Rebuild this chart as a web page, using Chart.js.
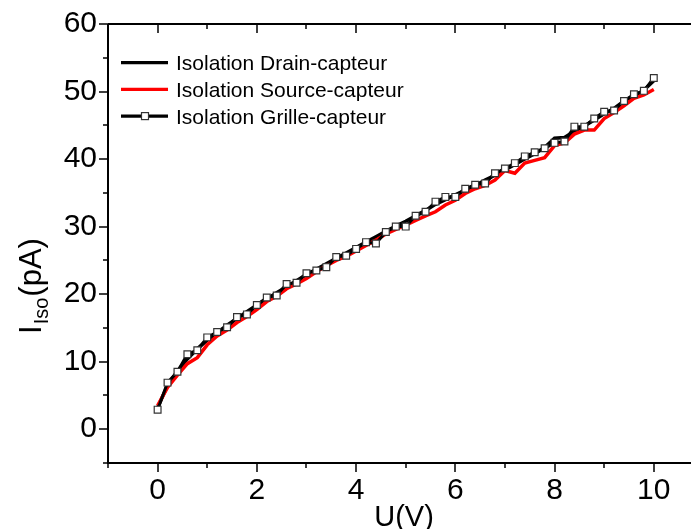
<!DOCTYPE html>
<html>
<head>
<meta charset="utf-8">
<title>Courant d'isolation</title>
<script src="https://cdn.jsdelivr.net/npm/chart.js@4.4.0/dist/chart.umd.min.js"></script>
<style>
    html, body { margin: 0; padding: 0; background: #fff; }
    #wrap { width: 691px; height: 529px; }
</style>
</head>
<body>
<div id="wrap"><canvas id="isoChart" width="691" height="529"></canvas></div>
<script>
// Tension appliquée (V)
const voltages = [0, 0.2, 0.4, 0.6, 0.8, 1, 1.2, 1.4, 1.6, 1.8, 2, 2.2, 2.4, 2.6, 2.8, 3, 3.2, 3.4, 3.6, 3.8,
    4, 4.2, 4.4, 4.6, 4.8, 5, 5.2, 5.4, 5.6, 5.8, 6, 6.2, 6.4, 6.6, 6.8, 7, 7.2, 7.4, 7.6, 7.8,
    8, 8.2, 8.4, 8.6, 8.8, 9, 9.2, 9.4, 9.6, 9.8, 10];

// Courants d'isolation (pA)
const drainCapteur = [3.2, 6.5, 8.6, 10.4, 11.9, 13.2, 14.3, 15.4, 16.4, 17.4, 18.4, 19.3, 20.2, 21.1, 22.0, 22.9, 23.7, 24.5, 25.3, 26.1,
    26.9, 27.7, 28.5, 29.3, 30.1, 30.8, 31.6, 32.4, 33.3, 34.0, 34.7, 35.4, 36.1, 36.9, 37.6, 38.4, 39.2, 40.0, 40.8, 41.7,
    43.1, 43.2, 44.1, 44.9, 45.8, 46.7, 47.5, 48.6, 49.3, 50.2, 51.6];
const sourceCapteur = [3.5, 6.2, 8.0, 9.7, 10.6, 12.5, 13.8, 14.7, 15.8, 16.7, 17.7, 18.9, 19.7, 20.8, 21.5, 22.3, 23.3, 24.2, 25.0, 25.6,
    26.4, 27.2, 28.0, 28.9, 29.6, 30.2, 30.9, 31.6, 32.2, 33.2, 33.9, 34.9, 35.6, 36.1, 36.9, 38.3, 37.9, 39.4, 39.8, 40.2,
    42.0, 42.4, 43.7, 44.3, 44.3, 46.0, 46.9, 47.9, 49.0, 49.5, 50.3];
const grilleCapteur = [2.9, 6.9, 8.5, 11.1, 11.7, 13.6, 14.4, 15.1, 16.6, 17.0, 18.4, 19.5, 19.8, 21.5, 21.7, 23.1, 23.5, 24.0, 25.5, 25.7,
    26.7, 27.7, 27.5, 29.2, 30.0, 30.0, 31.6, 32.2, 33.7, 34.4, 34.4, 35.6, 36.2, 36.4, 37.9, 38.6, 39.4, 40.4, 41.0, 41.6,
    42.4, 42.6, 44.8, 44.8, 46.0, 47.0, 47.2, 48.6, 49.6, 50.1, 52.0];

const seriesLabels = ['Isolation Drain-capteur', 'Isolation Source-capteur', 'Isolation Grille-capteur'];

const FONT = "'Liberation Sans', Arial, sans-serif";

function toPoints(ys) {
    return voltages.map((v, i) => ({ x: v, y: ys[i] }));
}

// Cadre, graduations (majeures / mineures) et titres des axes
const framePlugin = {
    id: 'frame',
    afterDraw(chart) {
        const { ctx, chartArea: a, scales: { x, y } } = chart;
        ctx.save();
        ctx.strokeStyle = '#000';
        ctx.lineWidth = 2;
        ctx.beginPath();
        ctx.moveTo(a.left, a.top);
        ctx.lineTo(a.left, a.bottom);
        ctx.lineTo(a.right, a.bottom);
        ctx.moveTo(a.left, a.top);
        ctx.lineTo(a.right, a.top);
        ctx.stroke();

        ctx.lineWidth = 1.5;
        ctx.beginPath();
        x.ticks.filter(t => Number.isInteger(t.value)).forEach(t => {
            const px = Math.round(x.getPixelForValue(t.value));
            const len = t.value % 2 === 0 ? 9 : 5;
            ctx.moveTo(px, a.bottom);
            ctx.lineTo(px, a.bottom + len);
            ctx.moveTo(px, a.top);
            ctx.lineTo(px, a.top + len);
        });
        y.ticks.forEach(t => {
            const py = Math.round(y.getPixelForValue(t.value));
            const len = t.value % 10 === 0 ? 9 : 5;
            ctx.moveTo(a.left, py);
            ctx.lineTo(a.left - len, py);
        });
        ctx.stroke();

        // titre de l'axe X
        ctx.fillStyle = '#000';
        ctx.font = '29px ' + FONT;
        ctx.textAlign = 'center';
        ctx.textBaseline = 'alphabetic';
        ctx.fillText('U(V)', 404, 526);

        // titre de l'axe Y avec indice
        const main = '31px ' + FONT, sub = '20px ' + FONT;
        ctx.font = main;
        const wI = ctx.measureText('I').width;
        const wP = ctx.measureText('(pA)').width;
        ctx.font = sub;
        const wS = ctx.measureText('Iso').width;
        const total = wI + wS + wP + 2;
        ctx.translate(41, 286);
        ctx.rotate(-Math.PI / 2);
        ctx.textAlign = 'left';
        let cx = -total / 2;
        ctx.font = main;
        ctx.fillText('I', cx, 0);
        cx += wI + 1;
        ctx.font = sub;
        ctx.fillText('Iso', cx, 7);
        cx += wS + 1;
        ctx.font = main;
        ctx.fillText('(pA)', cx, 0);
        ctx.restore();
    }
};

// Légende dans la zone du graphique
const legendPlugin = {
    id: 'innerLegend',
    afterDraw(chart) {
        const { ctx } = chart;
        ctx.save();
        ctx.font = '21px ' + FONT;
        ctx.textBaseline = 'alphabetic';
        ctx.textAlign = 'left';
        chart.data.datasets.forEach((ds, i) => {
            const yy = 62.7 + i * 26.7;
            ctx.strokeStyle = ds.borderColor;
            ctx.lineWidth = 3.3;
            ctx.beginPath();
            ctx.moveTo(121, yy);
            ctx.lineTo(168, yy);
            ctx.stroke();
            if (ds.pointRadius > 0) {
                ctx.fillStyle = '#fff';
                ctx.strokeStyle = '#333';
                ctx.lineWidth = 1.2;
                ctx.fillRect(141.5, yy - 3.5, 7, 7);
                ctx.strokeRect(141.5, yy - 3.5, 7, 7);
            }
            ctx.fillStyle = '#000';
            ctx.fillText(ds.label, 176, yy + 7.5);
        });
        ctx.restore();
    }
};

new Chart(document.getElementById('isoChart'), {
    type: 'line',
    data: {
        datasets: [
            {
                label: seriesLabels[0],
                data: toPoints(drainCapteur),
                borderColor: '#000000',
                borderWidth: 3.5,
                pointRadius: 0,
                order: 3
            },
            {
                label: seriesLabels[1],
                data: toPoints(sourceCapteur),
                borderColor: '#ff0000',
                borderWidth: 3.5,
                pointRadius: 0,
                order: 2
            },
            {
                label: seriesLabels[2],
                data: toPoints(grilleCapteur),
                borderColor: '#000000',
                borderWidth: 3,
                pointStyle: 'rect',
                pointRadius: 4.8,
                pointBackgroundColor: '#ffffff',
                pointBorderColor: '#333333',
                pointBorderWidth: 1.2,
                order: 1
            }
        ]
    },
    options: {
        responsive: false,
        animation: false,
        layout: { autoPadding: false, padding: { top: 24, right: 0, bottom: 0, left: 0 } },
        plugins: {
            legend: { display: false },
            tooltip: { enabled: false }
        },
        scales: {
            x: {
                type: 'linear',
                min: -1,
                max: 10.75,
                grid: { display: false, drawTicks: false },
                border: { display: false },
                ticks: {
                    stepSize: 1,
                    includeBounds: false,
                    padding: 13,
                    color: '#000',
                    maxRotation: 0,
                    autoSkip: false,
                    font: { family: FONT, size: 30, lineHeight: 1 },
                    callback: v => (Number.isInteger(v) && v >= 0 && v % 2 === 0) ? String(v) : ''
                },
                afterFit: s => { s.height = 66; s.paddingLeft = 0; s.paddingRight = 0; }
            },
            y: {
                min: -5,
                max: 60,
                grid: { display: false, drawTicks: false },
                border: { display: false },
                ticks: {
                    stepSize: 5,
                    padding: 11,
                    color: '#000',
                    autoSkip: false,
                    font: { family: FONT, size: 30, lineHeight: 1 },
                    callback: v => (v >= 0 && v % 10 === 0) ? String(v) : ''
                },
                afterFit: s => { s.width = 108; s.paddingTop = 0; s.paddingBottom = 0; }
            }
        }
    },
    plugins: [framePlugin, legendPlugin]
});
</script>
</body>
</html>
